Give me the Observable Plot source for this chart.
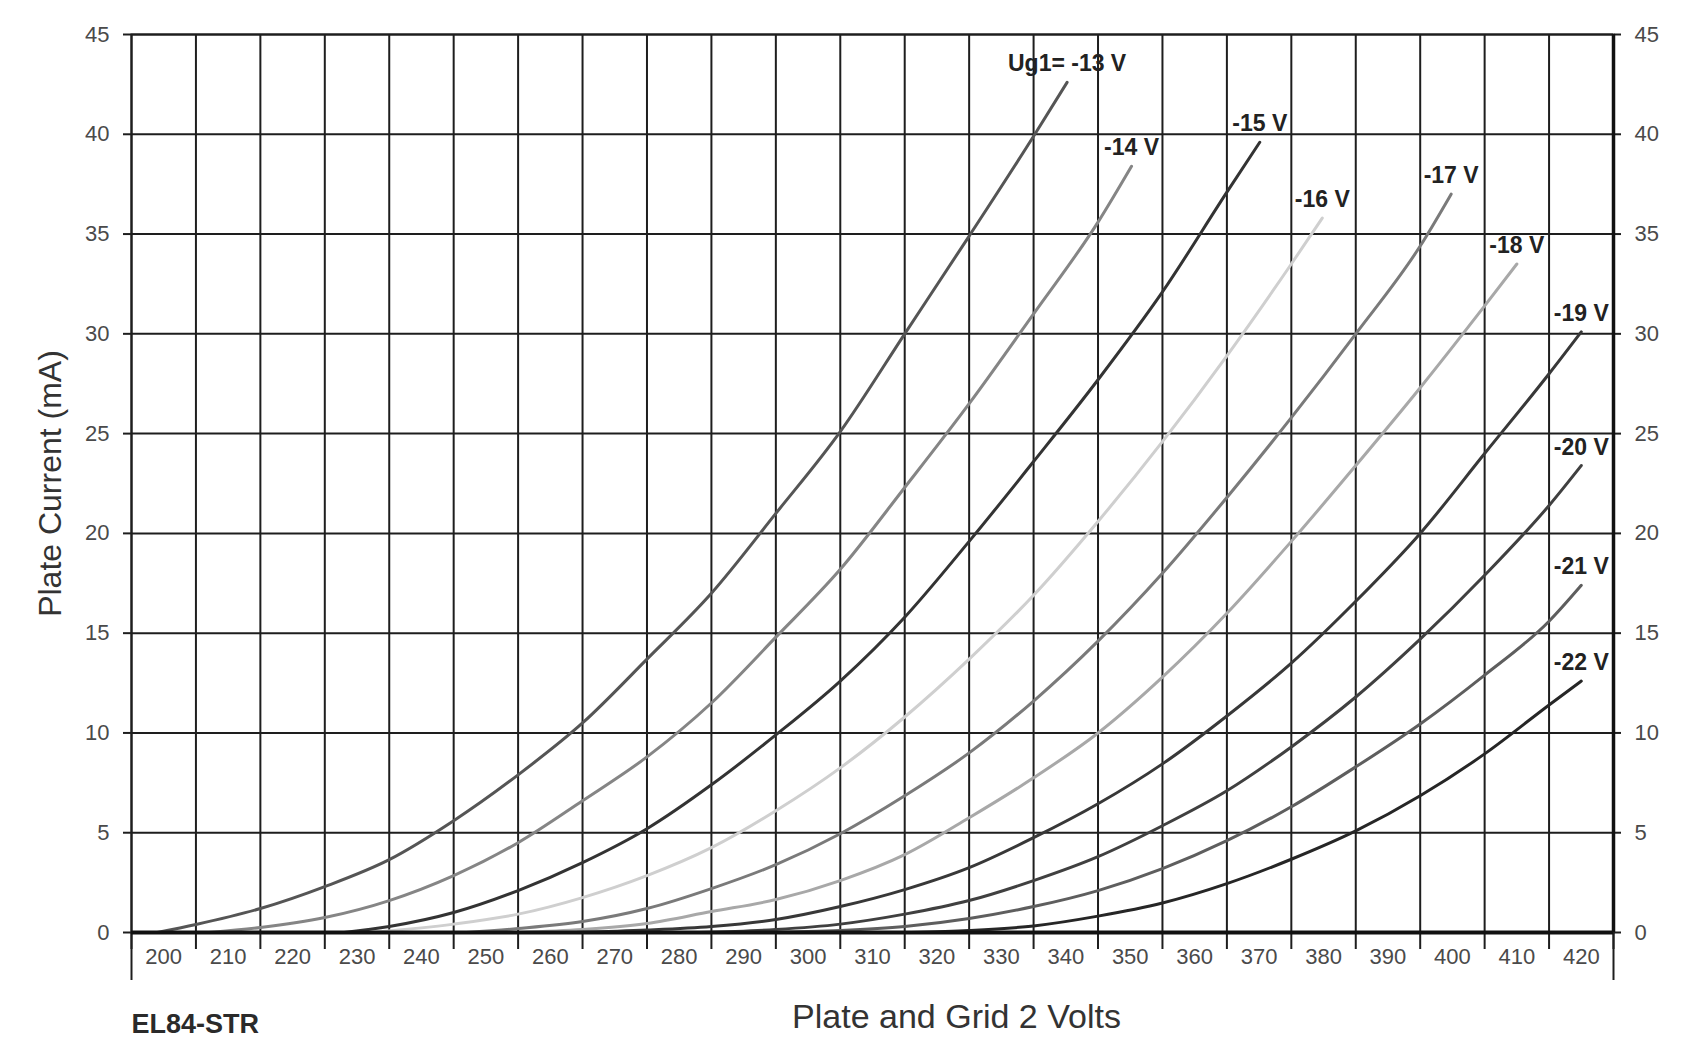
<!DOCTYPE html>
<html>
<head>
<meta charset="utf-8">
<script src="https://cdn.jsdelivr.net/npm/d3@7"></script>
<script src="https://cdn.jsdelivr.net/npm/@observablehq/plot@0.6"></script>
<style>
  html, body { margin: 0; padding: 0; background: #fff; }
  #chart svg { display: block; }
</style>
</head>
<body>
<div id="chart"></div>
<script>
// Grid-1 voltages (series) and their labels
const ug1 = [-13, -14, -15, -16, -17, -18, -19, -20, -21, -22];
const ugLabels = ["Ug1= -13 V", "-14 V", "-15 V", "-16 V", "-17 V", "-18 V", "-19 V", "-20 V", "-21 V", "-22 V"];

// Plate current (mA) vs plate & grid-2 voltage (V): [V, mA]
const curveM13 = [[199,0],[205,0.4],[215,1.2],[225,2.3],[235,3.65],[245,5.6],[255,7.9],[265,10.5],[275,13.7],[285,17.0],[295,21.0],[305,25.1],[315,30.0],[325,34.9],[335,39.9],[340.2,42.6]];
const curveM14 = [[207,0],[215,0.25],[225,0.75],[235,1.6],[245,2.85],[255,4.5],[265,6.6],[275,8.8],[285,11.5],[295,14.8],[305,18.2],[315,22.3],[325,26.5],[335,31.0],[345,35.6],[350.2,38.4]];
const curveM15 = [[228,0],[235,0.3],[245,1.0],[255,2.1],[265,3.5],[275,5.2],[285,7.4],[295,9.9],[305,12.6],[315,15.8],[325,19.6],[335,23.6],[345,27.7],[355,32.1],[365,37.1],[370.1,39.6]];
const curveM16 = [[232,0],[245,0.42],[255,0.92],[265,1.75],[275,2.85],[285,4.25],[295,6.1],[305,8.25],[315,10.8],[325,13.7],[335,16.9],[345,20.6],[355,24.6],[365,28.9],[375,33.5],[379.8,35.8]];
const curveM17 = [[247,0],[255,0.2],[265,0.55],[275,1.2],[285,2.2],[295,3.4],[305,4.95],[315,6.85],[325,9.0],[335,11.6],[345,14.6],[355,18.0],[365,21.8],[375,25.8],[385,30.0],[395,34.4],[399.8,37.0]];
const curveM18 = [[255,0],[265,0.15],[275,0.45],[285,1.05],[295,1.65],[305,2.6],[315,3.9],[325,5.75],[335,7.75],[345,10.0],[355,12.8],[365,16.0],[375,19.6],[385,23.4],[395,27.3],[405,31.4],[410,33.5]];
const curveM19 = [[264,0],[275,0.12],[285,0.3],[295,0.65],[305,1.3],[315,2.15],[325,3.25],[335,4.75],[345,6.45],[355,8.45],[365,10.85],[375,13.5],[385,16.6],[395,20.0],[405,24.0],[415,28.0],[420,30.1]];
const curveM20 = [[283,0],[295,0.15],[305,0.42],[315,0.92],[325,1.6],[335,2.6],[345,3.8],[355,5.35],[365,7.1],[375,9.3],[385,11.8],[395,14.7],[405,17.9],[415,21.4],[420,23.4]];
const curveM21 = [[293,0],[305,0.1],[315,0.3],[325,0.7],[335,1.3],[345,2.1],[355,3.2],[365,4.6],[375,6.3],[385,8.3],[395,10.45],[405,12.9],[415,15.6],[420,17.4]];
const curveM22 = [[316,0],[325,0.1],[335,0.33],[345,0.82],[355,1.48],[365,2.45],[375,3.67],[385,5.09],[395,6.85],[405,8.95],[415,11.4],[420,12.6]];

// Axis ticks
const xTickLabels = [200,210,220,230,240,250,260,270,280,290,300,310,320,330,340,350,360,370,380,390,400,410,420];
const xGridLines = [195,205,215,225,235,245,255,265,275,285,295,305,315,325,335,345,355,365,375,385,395,405,415,425];
const yTicks = [0,5,10,15,20,25,30,35,40,45];

const curves = [curveM13, curveM14, curveM15, curveM16, curveM17, curveM18, curveM19, curveM20, curveM21, curveM22];
const rows = curves.flatMap((c, i) => c.map(([v, ma]) => ({series: ugLabels[i], v, ma})));
const ends = curves.map((c, i) => ({series: ugLabels[i], v: c[c.length - 1][0], ma: c[c.length - 1][1]}));

const font = "'Liberation Sans', Arial, Helvetica, sans-serif";
const ink = "#1e1e1e";

const chart = Plot.plot({
  width: 1686,
  height: 1042,
  marginLeft: 131,
  marginRight: 73,
  marginTop: 34,
  marginBottom: 110,
  style: {fontFamily: font, background: "#fff", color: ink},
  x: {domain: [195, 425]},
  y: {domain: [0, 45]},
  color: {
    type: "ordinal",
    domain: ugLabels,
    range: ["#555555", "#858585", "#333333", "#cfcfcf", "#7a7a7a", "#a8a8a8", "#383838", "#404040", "#5e5e5e", "#262626"]
  },
  marks: [
    Plot.gridX(xGridLines, {stroke: ink, strokeOpacity: 1, strokeWidth: 2}),
    Plot.gridY(yTicks, {stroke: ink, strokeOpacity: 1, strokeWidth: 2}),
    Plot.frame({stroke: ink, strokeWidth: 2}),
    Plot.axisX(xTickLabels, {tickSize: 0, tickPadding: 16, fontSize: 22, fill: "#4a4a4a", label: null}),
    Plot.axisX(xGridLines, {tickSize: 17, tickFormat: () => "", label: null, stroke: ink, strokeWidth: 2}),
    Plot.axisX([195, 425], {tickSize: 48, tickFormat: () => "", label: null, stroke: ink, strokeWidth: 2}),
    Plot.axisY(yTicks, {anchor: "left", tickSize: 8, tickPadding: 14, fontSize: 22, fill: "#4a4a4a", label: null, stroke: ink, strokeWidth: 2}),
    Plot.axisY(yTicks, {anchor: "right", tickSize: 7, tickPadding: 14, fontSize: 22, fill: "#4a4a4a", label: null, stroke: ink, strokeWidth: 2}),
    Plot.line(rows, {x: "v", y: "ma", z: "series", stroke: "series", strokeWidth: 3, curve: "monotone-x"}),
    Plot.ruleY([0], {stroke: "#111", strokeWidth: 4}),
    Plot.ruleX([425], {stroke: "#111", strokeWidth: 3.5}),
    Plot.text(ends, {x: "v", y: "ma", text: "series", lineAnchor: "bottom", dy: -11, fontSize: 23, fontWeight: "bold", fill: "#222"}),
    Plot.text(["Plate and Grid 2 Volts"], {text: d => d, frameAnchor: "bottom", dx: 84, dy: 95, fontSize: 34, fill: "#333"}),
    Plot.text(["EL84-STR"], {text: d => d, frameAnchor: "bottom-left", textAnchor: "start", dy: 100, fontSize: 27, fontWeight: "bold", fill: "#2a2a2a"}),
    Plot.text(["Plate Current (mA)"], {text: d => d, frameAnchor: "left", textAnchor: "middle", dx: -81, rotate: -90, fontSize: 32, fill: "#333"})
  ]
});

document.getElementById("chart").appendChild(chart);
</script>
</body>
</html>
